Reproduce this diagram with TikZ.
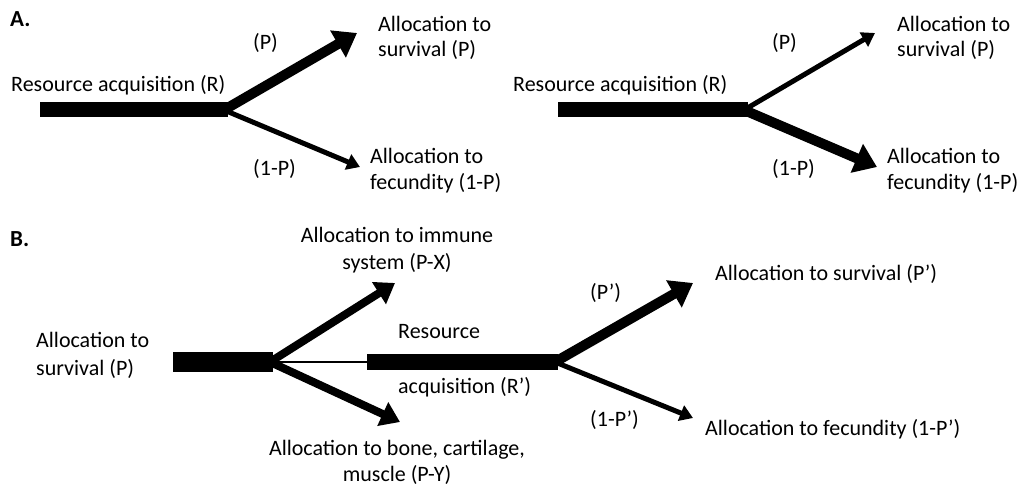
\documentclass[tikz,border=0pt]{standalone}
\usepackage{fontspec}
\setmainfont{Carlito}
\usetikzlibrary{arrows.meta}
\tikzset{
  lbl/.style={font=\fontsize{22}{26}\selectfont, inner sep=0pt, anchor=base west},
  clbl/.style={font=\fontsize{22}{26}\selectfont, inner sep=0pt, anchor=base},
  panel/.style={font=\fontsize{23}{26}\selectfont\bfseries, inner sep=0pt, anchor=base west},
  bar/.style={line width=15pt},
  bigbar/.style={line width=19pt},
  thinline/.style={line width=1.6pt},
  bigarrow/.style={line width=10pt, -{Triangle[length=22pt,width=30pt]}},
  midarrow/.style={line width=8pt, -{Triangle[length=19pt,width=25pt]}},
  smallarrow/.style={line width=5pt, -{Triangle[length=13pt,width=16pt]}},
}
\begin{document}
\begin{tikzpicture}[x=1pt,y=-1pt]
\fill[white] (0,0) rectangle (1023,486);
\useasboundingbox (0,0) rectangle (1023,486);

% ---------- Panel A ----------
\node[panel] (labA) at (10,27) {A.};

% left diagram
\coordinate (a1s) at (40,110);
\coordinate (a1j) at (228,110);
\coordinate (a1jb) at (224,110);
\coordinate (a1up) at (357,33);
\coordinate (a1dn) at (360,167);
\draw[bar] (a1s) -- (a1j);
\draw[bigarrow] (a1jb) -- (a1up);
\draw[smallarrow] (a1jb) -- (a1dn);
\node[lbl] (a1R) at (11,92) {Resource acquisition (R)};
\node[lbl] (a1P) at (253,50) {(P)};
\node[lbl] (a1Q) at (253,176) {(1-P)};
\node[lbl] (a1S1) at (378,32) {Allocation to};
\node[lbl] (a1S2) at (378,57) {survival (P)};
\node[lbl] (a1F1) at (370,164) {Allocation to};
\node[lbl] (a1F2) at (370,190) {fecundity (1-P)};

% right diagram
\coordinate (a2s) at (558,110);
\coordinate (a2j) at (748,110);
\coordinate (a2jb) at (744,110);
\coordinate (a2up) at (875,33);
\coordinate (a2dn) at (877,167);
\draw[bar] (a2s) -- (a2j);
\draw[smallarrow] (a2jb) -- (a2up);
\draw[bigarrow] (a2jb) -- (a2dn);
\node[lbl] (a2R) at (513,92) {Resource acquisition (R)};
\node[lbl] (a2P) at (772,50) {(P)};
\node[lbl] (a2Q) at (772,176) {(1-P)};
\node[lbl] (a2S1) at (897,32) {Allocation to};
\node[lbl] (a2S2) at (897,57) {survival (P)};
\node[lbl] (a2F1) at (887,164) {Allocation to};
\node[lbl] (a2F2) at (887,190) {fecundity (1-P)};

% ---------- Panel B ----------
\node[panel] (labB) at (10,247) {B.};

\coordinate (b1s) at (173,362);
\coordinate (b1j) at (273,362);
\coordinate (b1jb) at (270,362);
\coordinate (b1up) at (395,283);
\coordinate (b1dn) at (400,422);
\coordinate (b2s) at (367,362);
\coordinate (b2j) at (558,362);
\coordinate (b2jb) at (555,362);
\coordinate (b2up) at (693,283);
\coordinate (b2dn) at (693,418);

\draw[bigbar] (b1s) -- (b1j);
\draw[midarrow] (b1jb) -- (b1up);
\draw[midarrow] (b1jb) -- (b1dn);
\draw[thinline] (b1j) -- (b2s);
\draw[bar] (b2s) -- (b2j);
\draw[bigarrow] (b2jb) -- (b2up);
\draw[smallarrow] (b2jb) -- (b2dn);

\node[lbl] (bS1) at (36,348) {Allocation to};
\node[lbl] (bS2) at (36,375) {survival (P)};
\node[clbl] (bI1) at (397,243) {Allocation to immune};
\node[clbl] (bI2) at (397,270) {system (P-X)};
\node[lbl] (bR1) at (398,339) {Resource};
\node[lbl] (bR2) at (398,393) {acquisition (R’)};
\node[clbl] (bB1) at (397,455) {Allocation to bone, cartilage,};
\node[clbl] (bB2) at (397,481) {muscle (P-Y)};
\node[lbl] (bP) at (590,300) {(P’)};
\node[lbl] (bQ) at (590,426) {(1-P’)};
\node[lbl] (bSv) at (715,281) {Allocation to survival (P’)};
\node[lbl] (bFc) at (705,435) {Allocation to fecundity (1-P’)};
\end{tikzpicture}
\end{document}
